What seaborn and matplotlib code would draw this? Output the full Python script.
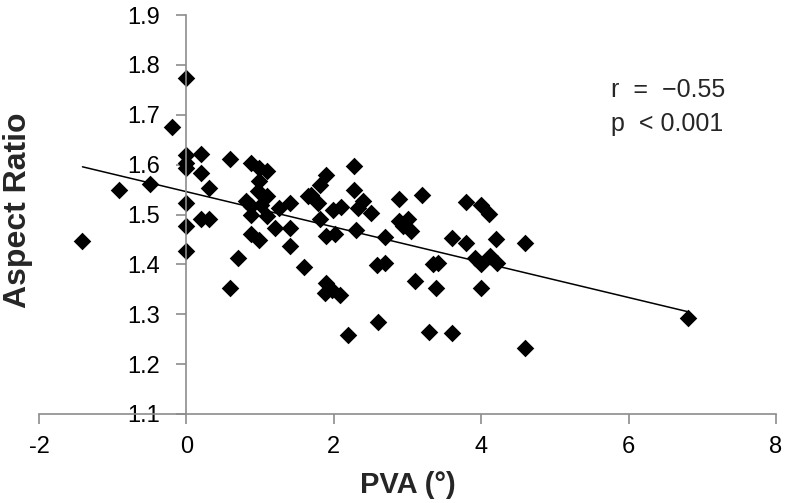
import numpy as np
import pandas as pd
import seaborn as sns
import matplotlib.pyplot as plt

# values
pva = [0, 0, 0, 0, 0, 0, 0,
       -0.2, -0.5, -0.91, -1.41,
       0.2, 0.2, 0.2, 0.31, 0.31,
       0.59, 0.59, 0.7, 0.81,
       0.88, 0.88, 0.88, 0.88, 0.99, 0.99, 0.99, 0.97, 1.01,
       1.1, 1.1, 1.1, 1.2, 1.26, 1.4, 1.4, 1.4,
       1.59, 1.65, 1.69, 1.78, 1.81, 1.81,
       1.9, 1.9, 1.9, 1.88, 1.97, 1.99, 2.01, 2.08, 2.1, 2.19,
       2.28, 2.28, 2.3, 2.33, 2.4, 2.51, 2.58, 2.6, 2.69, 2.7,
       2.89, 2.89, 2.94, 3.0, 3.05, 3.1, 3.19, 3.29, 3.35, 3.41, 3.39,
       3.6, 3.6, 3.79, 3.8, 3.91, 4.0, 4.0, 4.0, 4.11, 4.12, 4.2, 4.21,
       4.6, 4.6, 6.8]
aspect = [1.774, 1.62, 1.603, 1.593, 1.523, 1.476, 1.426,
          1.675, 1.561, 1.55, 1.446,
          1.622, 1.583, 1.49, 1.553, 1.49,
          1.611, 1.352, 1.412, 1.527,
          1.603, 1.517, 1.5, 1.46, 1.593, 1.567, 1.449, 1.547, 1.52,
          1.587, 1.537, 1.496, 1.473, 1.513, 1.523, 1.473, 1.436,
          1.395, 1.537, 1.54, 1.523, 1.56, 1.49,
          1.58, 1.457, 1.362, 1.343, 1.349, 1.51, 1.46, 1.339, 1.516, 1.259,
          1.598, 1.55, 1.469, 1.513, 1.527, 1.503, 1.399, 1.285, 1.403, 1.455,
          1.531, 1.486, 1.476, 1.49, 1.466, 1.367, 1.54, 1.265, 1.4, 1.403, 1.352,
          1.263, 1.453, 1.526, 1.443, 1.413, 1.52, 1.4, 1.352, 1.501, 1.416, 1.451, 1.403,
          1.443, 1.232, 1.292]

xticks = [-2, 0, 2, 4, 6, 8]
yticks = [1.1, 1.2, 1.3, 1.4, 1.5, 1.6, 1.7, 1.8, 1.9]
stats_text = "r  =  \u22120.55\np  < 0.001"

df = pd.DataFrame({'PVA': pva, 'Aspect': aspect})

sns.set_style('white')
plt.rcParams['font.family'] = ['Liberation Sans', 'DejaVu Sans']

fig = plt.figure(figsize=(7.86, 5.03), dpi=100)
ax = fig.add_axes([39/786, 89/503, 737/786, 399/503])

sns.regplot(data=df, x='PVA', y='Aspect', ax=ax, ci=None, color='black', marker='D',
            scatter_kws={'s': 80, 'linewidths': 0, 'alpha': 1},
            line_kws={'linewidth': 1.1})

ax.set_xlim(-2, 8)
ax.set_ylim(1.1, 1.9)
ax.set_xticks(xticks)
ax.set_yticks(yticks)
ax.set_xticklabels([str(t) for t in xticks])
ax.set_yticklabels([f"{t:.1f}" for t in yticks])

ax.spines['left'].set_position(('data', 0))
for s in ['top', 'right']:
    ax.spines[s].set_visible(False)
for s in ['left', 'bottom']:
    ax.spines[s].set_color('#8c8c8c')
    ax.spines[s].set_linewidth(1.2)
ax.tick_params(axis='both', direction='out', length=7, width=1.2, color='#8c8c8c',
               labelsize=17, labelcolor='black', bottom=True, left=True)
ax.tick_params(axis='y', pad=12)
ax.tick_params(axis='x', pad=9)

ax.set_xlabel('PVA (\u00b0)', fontsize=21, fontweight='bold', labelpad=9)
ax.set_ylabel('Aspect Ratio', fontsize=23, fontweight='bold')
ax.yaxis.set_label_coords(-0.008, 0.51)

ax.text(0.776, 0.77, stats_text, transform=ax.transAxes, fontsize=18,
        va='center', ha='left', linespacing=1.55)

fig.savefig('out.png', dpi=100)
